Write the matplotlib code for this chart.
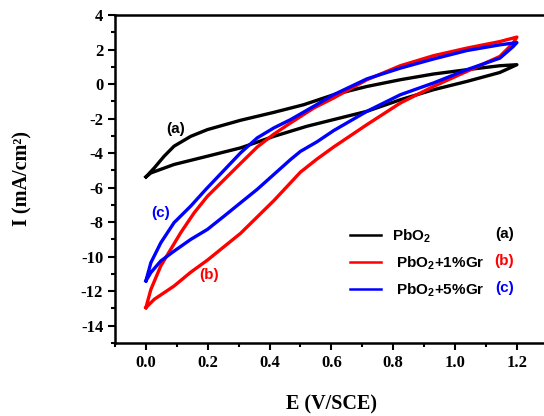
import numpy as np
import matplotlib
matplotlib.use('Agg')
import matplotlib.pyplot as plt
from matplotlib.ticker import MultipleLocator

plt.rcParams['mathtext.fontset'] = 'custom'
plt.rcParams['mathtext.rm'] = 'Liberation Sans:bold'
plt.rcParams['mathtext.it'] = 'Liberation Sans:bold'
plt.rcParams['mathtext.bf'] = 'Liberation Sans:bold'
plt.rcParams['axes.unicode_minus'] = False

# PbO2 (a): scan up, then back down
e_a_up = [0, 0.027, 0.059, 0.091, 0.145, 0.199, 0.306, 0.414, 0.51, 0.607, 0.715, 0.823, 0.93, 1.038, 1.145, 1.2]
i_a_up = [-5.38, -4.86, -4.18, -3.6, -3.03, -2.64, -2.1, -1.64, -1.2, -0.62, -0.14, 0.25, 0.58, 0.83, 1.06, 1.12]
e_a_dn = [1.2, 1.145, 1.038, 0.93, 0.823, 0.715, 0.607, 0.52, 0.414, 0.306, 0.199, 0.091, 0.016, 0]
i_a_dn = [1.12, 0.67, 0.15, -0.33, -0.91, -1.58, -2.06, -2.45, -3.03, -3.7, -4.18, -4.66, -5.15, -5.38]

# PbO2+1%Gr (b)
e_b_up = [0, 0.016, 0.048, 0.08, 0.113, 0.156, 0.199, 0.306, 0.36, 0.414, 0.468, 0.543, 0.607, 0.715,
          0.823, 0.93, 1.038, 1.145, 1.2]
i_b_up = [-12.95, -11.9, -10.54, -9.58, -8.6, -7.46, -6.5, -4.6, -3.65, -2.9, -2.25, -1.39, -0.81, 0.25,
          1.06, 1.64, 2.08, 2.46, 2.72]
e_b_dn = [1.2, 1.188, 1.145, 1.038, 0.93, 0.823, 0.715, 0.607, 0.553, 0.5, 0.414, 0.306, 0.199,
          0.145, 0.091, 0.027, 0]
i_b_dn = [2.72, 2.37, 1.6, 0.73, -0.14, -1.1, -2.35, -3.65, -4.35, -5.1, -6.75, -8.65, -10.2,
          -10.9, -11.7, -12.47, -12.95]

# PbO2+5%Gr (c)
e_c_up = [0, 0.016, 0.048, 0.091, 0.145, 0.194, 0.306, 0.36, 0.414, 0.468, 0.543, 0.607, 0.715,
          0.823, 0.93, 1.038, 1.145, 1.2]
i_c_up = [-11.4, -10.35, -9.2, -8.03, -7.07, -6.1, -3.99, -3.12, -2.54, -2.06, -1.29, -0.62, 0.3,
          0.92, 1.45, 1.94, 2.27, 2.4]
e_c_dn = [1.2, 1.188, 1.145, 1.038, 0.93, 0.823, 0.715, 0.607, 0.553, 0.5, 0.468, 0.36, 0.306, 0.253,
          0.199, 0.145, 0.091, 0.048, 0.016, 0]
i_c_dn = [2.4, 2.17, 1.5, 0.83, 0.06, -0.62, -1.58, -2.7, -3.35, -3.9, -4.37, -6.1, -6.88, -7.65,
          -8.42, -9.0, -9.68, -10.25, -10.92, -11.4]

labels = ['PbO$_2$', ' PbO$_2$+1%Gr', ' PbO$_2$+5%Gr']
tags = ['(a)', '(b)', '(c)']
colors = ['black', 'red', 'blue']

fig = plt.figure(figsize=(5.44, 4.16), dpi=100)
ax = fig.add_axes([0.2114, 0.1755, 0.7956, 0.7885])

curves = [(e_a_up, i_a_up, e_a_dn, i_a_dn),
          (e_b_up, i_b_up, e_b_dn, i_b_dn),
          (e_c_up, i_c_up, e_c_dn, i_c_dn)]
for (eu, iu, ed, idn), c, lab in zip(curves, colors, labels):
    ax.plot(list(eu) + list(ed), list(iu) + list(idn), color=c, lw=2.4, label=lab,
            solid_joinstyle='round')

ax.set_xlim(-0.1, 1.3)
ax.set_ylim(-15, 4)
ax.xaxis.set_major_locator(MultipleLocator(0.2))
ax.xaxis.set_minor_locator(MultipleLocator(0.1))
ax.yaxis.set_major_locator(MultipleLocator(2))
ax.yaxis.set_minor_locator(MultipleLocator(1))
ax.tick_params(which='major', direction='out', length=5, width=1.5)
ax.tick_params(which='minor', direction='out', length=3, width=1.5)
ax.set_xticks(np.arange(0, 1.21, 0.2))
ax.set_xticklabels(['0.0', '0.2', '0.4', '0.6', '0.8', '1.0', '1.2'])
for t in ax.get_xticklabels() + ax.get_yticklabels():
    t.set_fontfamily('Liberation Serif')
    t.set_fontweight('bold')
    t.set_fontsize(12)
for s in ax.spines.values():
    s.set_linewidth(1.8)

ax.set_xlabel('E (V/SCE)', fontfamily='Liberation Serif', fontweight='bold', fontsize=14.5, labelpad=17)
ax.set_ylabel('I (mA/cm²)', fontfamily='Liberation Serif', fontweight='bold', fontsize=14.5, labelpad=35)

leg = ax.legend(loc='upper left', bbox_to_anchor=(0.511, 0.393), frameon=False,
                prop={'family': 'Liberation Sans', 'weight': 'bold', 'size': 11},
                handlelength=2.05, handletextpad=0.72, labelspacing=0.62)
for l in leg.get_lines():
    l.set_linewidth(1.8)

tf = dict(family='Liberation Sans', weight='bold', fontsize=11, ha='center', va='center')
# curve tags
ax.text(0.097, -2.58, tags[0], color=colors[0], **tf)
ax.text(0.203, -11.08, tags[1], color=colors[1], **tf)
ax.text(0.048, -7.45, tags[2], color=colors[2], **tf)
# legend tags
for k, (tg, c) in enumerate(zip(tags, colors)):
    ax.text(1.16, -8.7 - 1.56 * k, tg, color=c, **tf)

fig.savefig('out.png', dpi=100)
